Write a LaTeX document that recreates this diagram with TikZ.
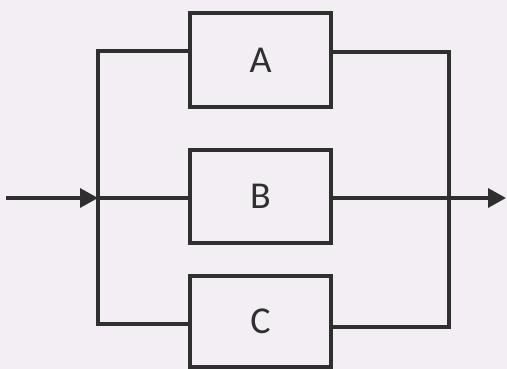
\documentclass[tikz,border=0pt]{standalone}
\usepackage{fontspec}
\setmainfont{Carlito}
\usetikzlibrary{arrows.meta}
\definecolor{bg}{HTML}{F3EEF3}
\definecolor{ink}{HTML}{2F2F2F}
\begin{document}
\begin{tikzpicture}[x=1pt,y=-1pt,
  blk/.style={draw=ink,line width=3.5pt,fill=none,minimum width=141pt,inner sep=0pt,
    font=\fontsize{38}{38}\selectfont,text=ink},
  wire/.style={draw=ink,line width=3.5pt},
  tip/.style={-{Triangle[length=18pt,width=19pt]}}]
\fill[bg] (0,0) rectangle (507,369);
\useasboundingbox (0,0) rectangle (507,369);
\clip (0,0) rectangle (507,369);
\node[blk,minimum height=94pt] (A) at (260.5,60) {A};
\node[blk,minimum height=93pt] (B) at (260.5,196.5) {B};
\node[blk,minimum height=91pt] (C) at (260.5,321.5) {C};
\coordinate (in) at (6,198);
\coordinate (jl) at (98,198);
\coordinate (jr) at (449,198);
\coordinate (out) at (506,198);
\coordinate (lt) at (98,51);
\coordinate (lb) at (98,324);
\coordinate (rt) at (449,52);
\coordinate (rb) at (449,327);
\draw[wire,line join=miter] (A.west |- lt) -- (lt) -- (lb) -- (C.west |- lb);
\draw[wire,line join=miter] (A.east |- rt) -- (rt) -- (rb) -- (C.east |- rb);
\draw[wire,tip] (in) -- (jl);
\draw[wire] (jl) -- (B.west |- jl);
\draw[wire,tip] (B.east |- jr) -- (out);
\end{tikzpicture}
\end{document}
